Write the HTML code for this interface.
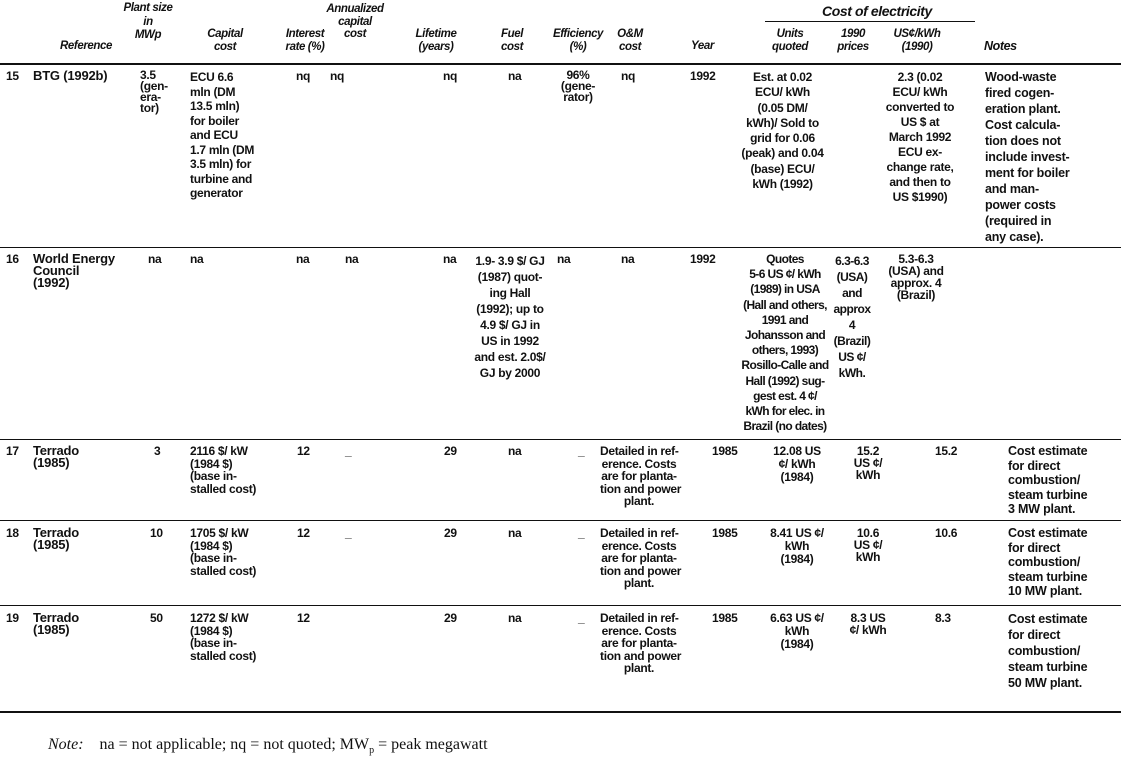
<!DOCTYPE html>
<html><head><meta charset="utf-8"><style>
body{margin:0;background:#fff;width:1121px;height:770px;position:relative;overflow:hidden;font-family:"Liberation Sans",sans-serif;font-weight:bold;color:#111;}
.c{position:absolute;font-size:12px;line-height:12px;letter-spacing:-0.3px;white-space:nowrap}
.h{font-style:italic;font-weight:bold;font-size:11.5px;line-height:12.5px;letter-spacing:-0.4px}
.r{position:absolute;left:0;width:1121px;background:#111}
.ctr{text-align:center}
.ref{font-size:13px;letter-spacing:-0.2px}
.n{font-size:12.5px;line-height:16px;letter-spacing:-0.2px}
.n2{font-size:12.5px;line-height:14.6px;letter-spacing:-0.2px}
</style></head><body>
<!-- header -->
<div class="c h ctr" style="left:118px;top:2px;width:60px">Plant size</div>
<div class="c h ctr" style="left:130px;top:16px;width:36px">in<br>MWp</div>
<div class="c h ctr" style="left:195px;top:28px;width:60px">Capital<br>cost</div>
<div class="c h ctr" style="left:275px;top:28px;width:60px">Interest<br>rate (%)</div>
<div class="c h ctr" style="left:320px;top:3px;width:70px">Annualized<br>capital<br>cost</div>
<div class="c h ctr" style="left:406px;top:28px;width:60px">Lifetime<br>(years)</div>
<div class="c h ctr" style="left:492px;top:28px;width:40px">Fuel<br>cost</div>
<div class="c h ctr" style="left:548px;top:28px;width:60px">Efficiency<br>(%)</div>
<div class="c h ctr" style="left:610px;top:28px;width:40px">O&amp;M<br>cost</div>
<div class="c h" style="left:691px;top:40px">Year</div>
<div class="c h" style="left:60px;top:40px">Reference</div>
<div class="c h" style="left:822px;top:4px;font-size:14px;line-height:15px">Cost of electricity</div>
<div class="r" style="left:765px;width:210px;top:21px;height:1px"></div>
<div class="c h ctr" style="left:755px;top:28px;width:70px">Units<br>quoted</div>
<div class="c h ctr" style="left:830px;top:28px;width:46px">1990<br>prices</div>
<div class="c h ctr" style="left:882px;top:28px;width:70px">US¢/kWh<br>(1990)</div>
<div class="c h" style="left:984px;top:40px;font-size:12.5px">Notes</div>
<div class="r" style="top:63px;height:2px"></div>

<!-- row 15 -->
<div class="c" style="left:6px;top:70px">15</div>
<div class="c ref" style="left:33px;top:70px">BTG (1992b)</div>
<div class="c" style="left:140px;top:70px;line-height:11px">3.5<br>(gen-<br>era-<br>tor)</div>
<div class="c" style="left:190px;top:70px;line-height:14.5px">ECU 6.6<br>mln (DM<br>13.5 mln)<br>for boiler<br>and ECU<br>1.7 mln (DM<br>3.5 mln) for<br>turbine and<br>generator</div>
<div class="c" style="left:296px;top:70px">nq</div>
<div class="c" style="left:330px;top:70px">nq</div>
<div class="c" style="left:443px;top:70px">nq</div>
<div class="c" style="left:508px;top:70px">na</div>
<div class="c ctr" style="left:548px;top:70px;width:60px;line-height:11px">96%<br>(gene-<br>rator)</div>
<div class="c" style="left:621px;top:70px">nq</div>
<div class="c" style="left:690px;top:70px">1992</div>
<div class="c ctr" style="left:740px;top:70px;width:85px;line-height:15.3px">Est. at 0.02<br>ECU/ kWh<br>(0.05 DM/<br>kWh)/ Sold to<br>grid for 0.06<br>(peak) and 0.04<br>(base) ECU/<br>kWh (1992)</div>
<div class="c ctr" style="left:880px;top:70px;width:80px;line-height:15px">2.3 (0.02<br>ECU/ kWh<br>converted to<br>US $ at<br>March 1992<br>ECU ex-<br>change rate,<br>and then to<br>US $1990)</div>
<div class="c n" style="left:985px;top:69px">Wood-waste<br>fired cogen-<br>eration plant.<br>Cost calcula-<br>tion does not<br>include invest-<br>ment for boiler<br>and man-<br>power costs<br>(required in<br>any case).</div>
<div class="r" style="top:247px;height:1px"></div>

<!-- row 16 -->
<div class="c" style="left:6px;top:253px">16</div>
<div class="c ref" style="left:33px;top:253px;line-height:12px">World Energy<br>Council<br>(1992)</div>
<div class="c" style="left:148px;top:253px">na</div>
<div class="c" style="left:190px;top:253px">na</div>
<div class="c" style="left:296px;top:253px">na</div>
<div class="c" style="left:345px;top:253px">na</div>
<div class="c" style="left:443px;top:253px">na</div>
<div class="c ctr" style="left:466px;top:253px;width:88px;line-height:16px">1.9- 3.9 $/ GJ<br>(1987) quot-<br>ing Hall<br>(1992); up to<br>4.9 $/ GJ in<br>US in 1992<br>and est. 2.0$/<br>GJ by 2000</div>
<div class="c" style="left:557px;top:253px">na</div>
<div class="c" style="left:621px;top:253px">na</div>
<div class="c" style="left:690px;top:253px">1992</div>
<div class="c ctr" style="left:740px;top:252px;width:90px;line-height:15.2px;letter-spacing:-0.6px">Quotes<br>5-6 US ¢/ kWh<br>(1989) in USA<br>(Hall and others,<br>1991 and<br>Johansson and<br>others, 1993)<br>Rosillo-Calle and<br>Hall (1992) sug-<br>gest est. 4 ¢/<br>kWh for elec. in<br>Brazil (no dates)</div>
<div class="c ctr" style="left:828px;top:253px;width:48px;line-height:16px;letter-spacing:-0.5px">6.3-6.3<br>(USA)<br>and<br>approx<br>4<br>(Brazil)<br>US ¢/<br>kWh.</div>
<div class="c ctr" style="left:874px;top:253px;width:84px;line-height:12px">5.3-6.3<br>(USA) and<br>approx. 4<br>(Brazil)</div>
<div class="r" style="top:439px;height:1px"></div>

<!-- rows 17-19 -->
<div class="c" style="left:6px;top:445px">17</div>
<div class="c ref" style="left:33px;top:445px;line-height:12px">Terrado<br>(1985)</div>
<div class="c" style="left:154px;top:445px">3</div>
<div class="c" style="left:190px;top:445px;line-height:12.5px">2116 $/ kW<br>(1984 $)<br>(base in-<br>stalled cost)</div>
<div class="c" style="left:297px;top:445px">12</div>
<div class="c" style="left:345px;top:445px">_</div>
<div class="c" style="left:444px;top:445px">29</div>
<div class="c" style="left:508px;top:445px">na</div>
<div class="c" style="left:578px;top:445px">_</div>
<div class="c ctr" style="left:600px;top:445px;width:78px;line-height:12.5px">Detailed in ref-<br>erence. Costs<br>are for planta-<br>tion and power<br>plant.</div>
<div class="c" style="left:712px;top:445px">1985</div>
<div class="c ctr" style="left:758px;top:445px;width:78px;line-height:13px">12.08 US<br>¢/ kWh<br>(1984)</div>
<div class="c ctr" style="left:846px;top:445px;width:44px;line-height:12px">15.2<br>US ¢/<br>kWh</div>
<div class="c" style="left:935px;top:445px">15.2</div>
<div class="c n2" style="left:1008px;top:444px">Cost estimate<br>for direct<br>combustion/<br>steam turbine<br>3 MW plant.</div>
<div class="r" style="top:520px;height:1px"></div>

<div class="c" style="left:6px;top:527px">18</div>
<div class="c ref" style="left:33px;top:527px;line-height:12px">Terrado<br>(1985)</div>
<div class="c" style="left:150px;top:527px">10</div>
<div class="c" style="left:190px;top:527px;line-height:12.5px">1705 $/ kW<br>(1984 $)<br>(base in-<br>stalled cost)</div>
<div class="c" style="left:297px;top:527px">12</div>
<div class="c" style="left:345px;top:527px">_</div>
<div class="c" style="left:444px;top:527px">29</div>
<div class="c" style="left:508px;top:527px">na</div>
<div class="c" style="left:578px;top:527px">_</div>
<div class="c ctr" style="left:600px;top:527px;width:78px;line-height:12.5px">Detailed in ref-<br>erence. Costs<br>are for planta-<br>tion and power<br>plant.</div>
<div class="c" style="left:712px;top:527px">1985</div>
<div class="c ctr" style="left:758px;top:527px;width:78px;line-height:13px">8.41 US ¢/<br>kWh<br>(1984)</div>
<div class="c ctr" style="left:846px;top:527px;width:44px;line-height:12px">10.6<br>US ¢/<br>kWh</div>
<div class="c" style="left:935px;top:527px">10.6</div>
<div class="c n2" style="left:1008px;top:526px">Cost estimate<br>for direct<br>combustion/<br>steam turbine<br>10 MW plant.</div>
<div class="r" style="top:605px;height:1px"></div>

<div class="c" style="left:6px;top:612px">19</div>
<div class="c ref" style="left:33px;top:612px;line-height:12px">Terrado<br>(1985)</div>
<div class="c" style="left:150px;top:612px">50</div>
<div class="c" style="left:190px;top:612px;line-height:12.5px">1272 $/ kW<br>(1984 $)<br>(base in-<br>stalled cost)</div>
<div class="c" style="left:297px;top:612px">12</div>
<div class="c" style="left:444px;top:612px">29</div>
<div class="c" style="left:508px;top:612px">na</div>
<div class="c" style="left:578px;top:612px">_</div>
<div class="c ctr" style="left:600px;top:612px;width:78px;line-height:12.5px">Detailed in ref-<br>erence. Costs<br>are for planta-<br>tion and power<br>plant.</div>
<div class="c" style="left:712px;top:612px">1985</div>
<div class="c ctr" style="left:758px;top:612px;width:78px;line-height:13px">6.63 US ¢/<br>kWh<br>(1984)</div>
<div class="c ctr" style="left:846px;top:612px;width:44px;line-height:12px">8.3 US<br>¢/ kWh</div>
<div class="c" style="left:935px;top:612px">8.3</div>
<div class="c n" style="left:1008px;top:611px">Cost estimate<br>for direct<br>combustion/<br>steam turbine<br>50 MW plant.</div>
<div class="r" style="top:711px;height:2px"></div>

<div class="c" style="left:48px;top:736px;font-family:'Liberation Serif',serif;font-weight:normal;font-size:16px;line-height:17px;letter-spacing:0"><i>Note:</i>&nbsp;&nbsp;&nbsp; na = not applicable; nq = not quoted; MW<sub style="font-size:10px">p</sub> = peak megawatt</div>
</body></html>
